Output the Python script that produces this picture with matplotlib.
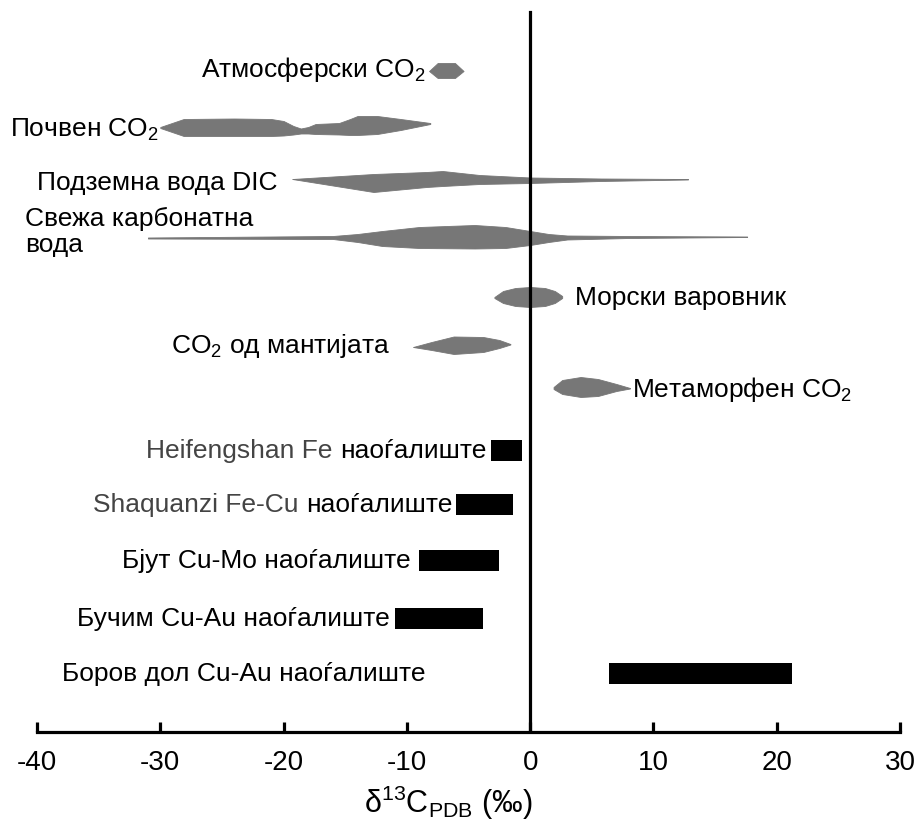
import numpy as np
import matplotlib
matplotlib.use("Agg")
import matplotlib.pyplot as plt

plt.rcParams['font.family'] = ['Liberation Sans', 'DejaVu Sans']
plt.rcParams['mathtext.default'] = 'regular'
plt.rcParams['axes.unicode_minus'] = False

# carbon isotope ranges (delta13C, per mil) - gray source fields
atm_x = [-8.2, -7.5, -6.1, -5.4]
soil_x = [-30.0, -28.1, -24.0, -21.0, -20.0, -19.2, -18.6, -18.0, -17.4,
          -15.5, -14.6, -14.0, -12.4, -10.5, -8.1]
dic_x = [-19.3, -12.7, -8.4, -7.1, -4.1, 0.0, 5.7, 12.8]
fresh_x = [-31.0, -16.0, -14.0, -12.0, -9.0, -4.5, -2.0, 0.0, 1.5, 3.0, 8.0, 17.6]
marine_x = [-2.9, -2.2, -1.2, 0.0, 1.2, 2.0, 2.6]
mantle_x = [-9.5, -8.0, -6.2, -3.8, -2.5, -1.6]
meta_x = [1.9, 2.6, 4.1, 5.5, 7.0, 8.1]

# deposits (black bars): min / max delta13C
deposits = ["Heifengshan Fe", "Shaquanzi Fe-Cu", "Бјут Cu-Mo наоѓалиште",
            "Бучим Cu-Au наоѓалиште", "Боров дол Cu-Au наоѓалиште"]
dep_min = [-3.2, -6.0, -9.0, -10.95, 6.4]
dep_max = [-0.65, -1.4, -2.5, -3.8, 21.2]

# drawing geometry (rows in axis units, top = 0)
shapes = [
    (atm_x, [72, 64, 64, 72], [72, 79, 79, 72]),
    (soil_x, [128, 120, 119.5, 120, 122, 127, 129.5, 128, 125, 124, 120, 117, 117, 120, 124],
     [129, 137, 137, 137, 136.5, 135.5, 134.5, 134.5, 135, 135.5, 136, 136, 135, 131, 125]),
    (dic_x, [180, 175, 173, 172, 176, 178.5, 179.5, 180],
     [180, 193, 188, 187, 185, 184, 182, 180.5]),
    (fresh_x, [238.5, 237, 235, 232, 228, 226, 228, 232, 235, 236.5, 237, 237.5],
     [239.5, 240, 243, 247, 249, 249.5, 249, 246, 243, 240.5, 239, 238]),
    (marine_x, [298, 292, 289, 288, 289, 292, 297], [299, 304, 307, 308, 307, 304, 299]),
    (mantle_x, [348, 343, 337.5, 338, 341, 345], [348, 351, 355, 353, 349, 345.5]),
    (meta_x, [388, 381, 378, 380, 385, 389], [390, 395, 398, 397, 392, 389.5]),
]
bar_rows = [451, 505, 561.5, 619.5, 674.5]

fig = plt.figure(figsize=(9.17, 8.28), dpi=100)
ax = fig.add_axes([37 / 917, 95 / 828, 863 / 917, 733 / 828])
ax.set_xlim(-40, 30)
ax.set_ylim(733, 0)

for xs, top, bot in shapes:
    ax.fill_between(xs, top, bot, color='#777777', lw=0.6, edgecolor='#777777')

ax.barh(bar_rows, np.array(dep_max) - np.array(dep_min), left=dep_min,
        height=21, color='black')

ax.axvline(0, ymin=0, ymax=(733 - 13) / 733, color='black', lw=2.3)

fs = 19
ax.text(-8.5, 70, "Атмосферски CO$_2$", ha='right', va='center', fontsize=fs)
ax.text(-42.2, 130, "Почвен CO$_2$", ha='left', va='center', fontsize=fs)
ax.text(-40.0, 183, "Подземна вода DIC", ha='left', va='center', fontsize=fs)
ax.text(-41.0, 232, "Свежа карбонатна\nвода", ha='left', va='center',
        fontsize=fs, linespacing=1.1)
ax.text(3.65, 298, "Морски варовник", ha='left', va='center', fontsize=fs)
ax.text(-11.35, 346, "CO$_2$ од мантијата", ha='right', va='center', fontsize=fs)
ax.text(8.3, 390, "Метаморфен CO$_2$", ha='left', va='center', fontsize=fs)

bfs = 19
label_right = [-3.57, -6.3, -9.7, -11.35, -8.5]
for i, name in enumerate(deposits):
    if i < 2:
        t = ax.text(label_right[i], bar_rows[i], "наоѓалиште", ha='right',
                    va='center', fontsize=bfs)
        ax.annotate(name + " ", xy=(0, 0.5), xycoords=t, ha='right', va='center',
                    fontsize=bfs, color='#444444')
    else:
        ax.text(label_right[i], bar_rows[i], name, ha='right', va='center',
                fontsize=bfs)

for s in ['top', 'right', 'left']:
    ax.spines[s].set_visible(False)
ax.spines['bottom'].set_linewidth(2.3)
ax.set_yticks([])
ax.set_xticks(np.arange(-40, 31, 10))
ax.tick_params(axis='x', direction='in', length=7, width=2.3, pad=12,
               labelsize=20)
fig.text(448 / 917, 1 - 803 / 828, "δ$^{13}$C$_{PDB}$ (‰)", fontsize=22,
         ha='center', va='center')

fig.savefig("out.png", dpi=100, facecolor='white')
